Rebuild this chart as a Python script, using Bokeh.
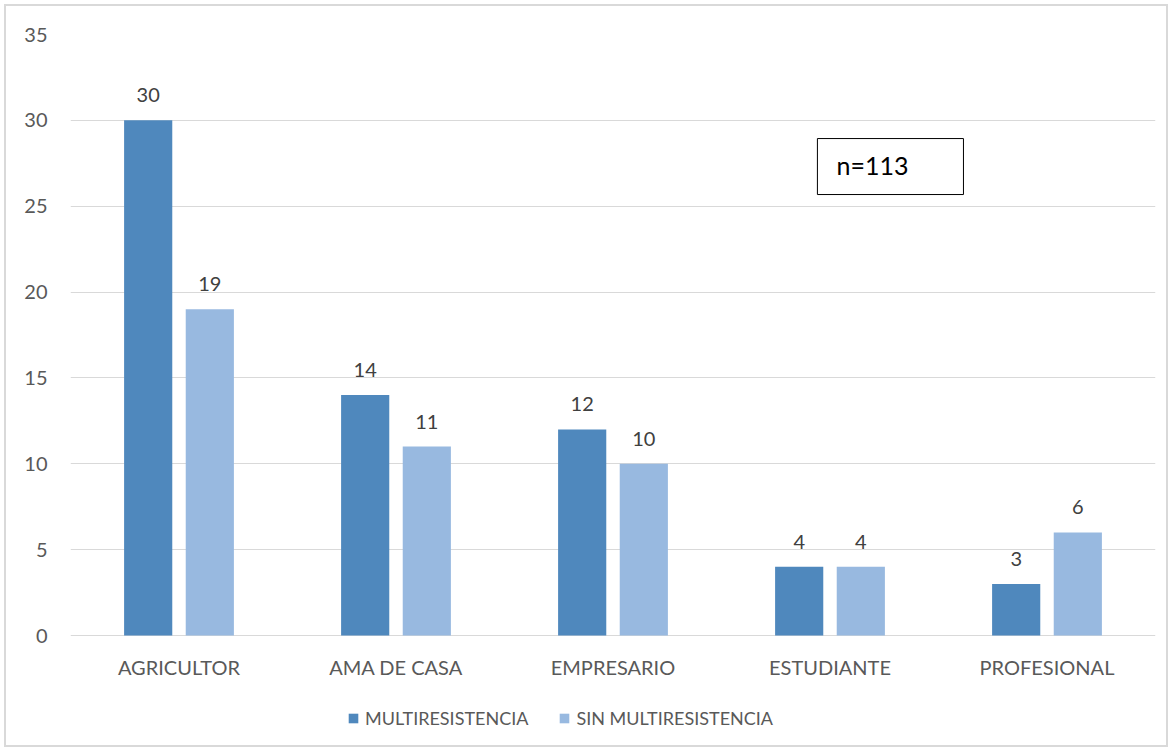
from bokeh.plotting import figure
from bokeh.models import (ColumnDataSource, FactorRange, Range1d, FixedTicker,
                          LabelSet, Label, BoxAnnotation, Legend, LegendItem)
from bokeh.core.properties import value
from bokeh.transform import dodge
from bokeh.embed import file_html
from bokeh.resources import INLINE

# Occupation categories and counts per group
categories = ["AGRICULTOR", "AMA DE CASA", "EMPRESARIO", "ESTUDIANTE", "PROFESIONAL"]
multiresistencia = [30, 14, 12, 4, 3]
sin_multiresistencia = [19, 11, 10, 4, 6]
y_ticks = [0, 5, 10, 15, 20, 25, 30, 35]
note_text = "n=113"

DARK = "#4F88BD"
LIGHT = "#98B9E0"
GRID = "#D9D9D9"
FONT = "Lato"

# Frame geometry: the plotting area reaches below zero so the category
# labels and the legend can live inside it.
W, H = 1164, 743
TOP, BOTTOM_PAD = 28, 4
ZERO_PX = 629           # canvas y of the value 0
px_per_unit = (ZERO_PX - TOP) / 35.0
y_start = -((H - BOTTOM_PAD) - ZERO_PX) / px_per_unit

src = ColumnDataSource(dict(
    cat=categories,
    multi=multiresistencia,
    sin=sin_multiresistencia,
    zero=[0] * len(categories),
    multi_lbl=[str(v) for v in multiresistencia],
    sin_lbl=[str(v) for v in sin_multiresistencia],
))

p = figure(
    width=W, height=H,
    x_range=FactorRange(factors=categories),
    y_range=Range1d(y_start, 35),
    x_axis_location=None,
    output_backend="svg", toolbar_location=None,
    min_border_left=64, min_border_right=15,
    min_border_top=TOP, min_border_bottom=BOTTOM_PAD,
)
p.styles = {"border": "2px solid #D9D9D9", "margin": "4px"}
p.outline_line_color = None
p.background_fill_color = "white"
p.border_fill_color = "white"

bar_w = 0.222
off = 0.142
r1 = p.vbar(x=dodge("cat", -off, range=p.x_range), top="multi", width=bar_w,
            source=src, fill_color=DARK, line_color=None)
r2 = p.vbar(x=dodge("cat", off, range=p.x_range), top="sin", width=bar_w,
            source=src, fill_color=LIGHT, line_color=None)

# value labels above each bar
for col, lbl, dx in (("multi", "multi_lbl", -off), ("sin", "sin_lbl", off)):
    p.add_layout(LabelSet(
        x=dodge("cat", dx, range=p.x_range), y=col, text=lbl, source=src,
        text_align="center", text_baseline="bottom", y_offset=18,
        text_font=value(FONT), text_font_size=value("20px"), text_color="#404040",
    ))

# category labels under the zero line
p.add_layout(LabelSet(
    x="cat", y="zero", text="cat", source=src,
    text_align="center", text_baseline="top", y_offset=-19,
    text_font=value(FONT), text_font_size=value("20px"), text_color="#595959",
))

# sample size note
p.add_layout(BoxAnnotation(left=3.442, right=4.115, bottom=25.68, top=28.94,
                           fill_color="white", fill_alpha=1.0,
                           line_color="black", line_width=1, line_alpha=1.0))
p.add_layout(Label(x=3.53, y=27.4, text=note_text, text_baseline="middle",
                   text_font=FONT, text_font_size="25px", text_color="black"))

# value axis
p.yaxis.ticker = FixedTicker(ticks=y_ticks)
p.yaxis.axis_line_color = None
p.yaxis.major_tick_line_color = None
p.yaxis.minor_tick_line_color = None
p.yaxis.major_label_standoff = 17
p.yaxis.major_label_text_font = FONT
p.yaxis.major_label_text_font_size = "20px"
p.yaxis.major_label_text_color = "#595959"

p.xgrid.grid_line_color = None
p.ygrid.ticker = FixedTicker(ticks=y_ticks)
p.ygrid.grid_line_color = GRID
p.ygrid.grid_line_width = 1

legend = Legend(
    items=[LegendItem(label="MULTIRESISTENCIA", renderers=[r1]),
           LegendItem(label="SIN MULTIRESISTENCIA", renderers=[r2])],
    orientation="horizontal", location=(277, 16),
    label_text_font=FONT, label_text_font_size="18px", label_text_color="#595959",
    glyph_width=12, glyph_height=12, spacing=30, label_standoff=6,
    border_line_color=None, background_fill_alpha=0, padding=0, margin=0,
)
p.add_layout(legend, "center")

open("out.html", "w").write(file_html(p, INLINE))
